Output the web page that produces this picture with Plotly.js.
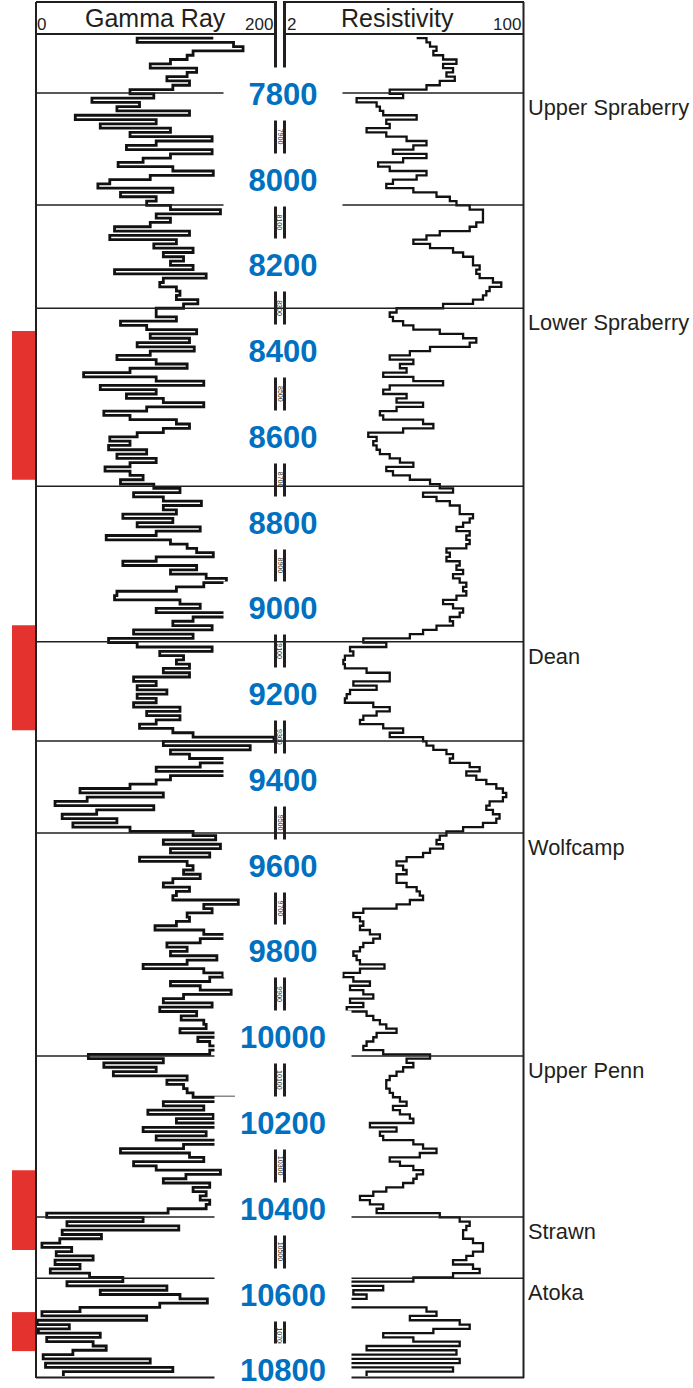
<!DOCTYPE html>
<html><head><meta charset="utf-8">
<script src="https://cdn.plot.ly/plotly-3.0.1.min.js"></script>
<style>html,body{margin:0;padding:0;background:#fff}</style>
</head><body><div id="chart" style="width:693px;height:1388px"></div>
<script>
// ---- data (depth in ft) ----
const depth = [
7670,7680,7690,7700,7710,7720,7730,7740,7750,7760,
7770,7780,7790,7800,7810,7820,7830,7840,7850,7860,
7870,7880,7890,7900,7910,7920,7930,7940,7950,7960,
7970,7980,7990,8000,8010,8020,8030,8040,8050,8060,
8070,8080,8090,8100,8110,8120,8130,8140,8150,8160,
8170,8180,8190,8200,8210,8220,8230,8240,8250,8260,
8270,8280,8290,8300,8310,8320,8330,8340,8350,8360,
8370,8380,8390,8400,8410,8420,8430,8440,8450,8460,
8470,8480,8490,8500,8510,8520,8530,8540,8550,8560,
8570,8580,8590,8600,8610,8620,8630,8640,8650,8660,
8670,8680,8690,8700,8710,8720,8730,8740,8750,8760,
8770,8780,8790,8800,8810,8820,8830,8840,8850,8860,
8870,8880,8890,8900,8910,8920,8930,8940,8950,8960,
8970,8980,8990,9000,9010,9020,9030,9040,9050,9060,
9070,9080,9090,9100,9110,9120,9130,9140,9150,9160,
9170,9180,9190,9200,9210,9220,9230,9240,9250,9260,
9270,9280,9290,9300,9310,9320,9330,9340,9350,9360,
9370,9380,9390,9400,9410,9420,9430,9440,9450,9460,
9470,9480,9490,9500,9510,9520,9530,9540,9550,9560,
9570,9580,9590,9600,9610,9620,9630,9640,9650,9660,
9670,9680,9690,9700,9710,9720,9730,9740,9750,9760,
9770,9780,9790,9800,9810,9820,9830,9840,9850,9860,
9870,9880,9890,9900,9910,9920,9930,9940,9950,9960,
9970,9980,9990,10000,10010,10020,10030,10040,10050,10060,
10070,10080,10090,10100,10110,10120,10130,10140,10150,10160,
10170,10180,10190,10200,10210,10220,10230,10240,10250,10260,
10270,10280,10290,10300,10310,10320,10330,10340,10350,10360,
10370,10380,10390,10400,10410,10420,10430,10440,10450,10460,
10470,10480,10490,10500,10510,10520,10530,10540,10550,10560,
10570,10580,10590,10600,10610,10620,10630,10640,10650,10660,
10670,10680,10690,10700,10710,10720,10730,10740,10750,10760,
10770,10780,10790];

const gammaRay = [
149,85,166,174,132,127,113,96,135,127,
110,129,115,79,99,47,87,68,129,33,
101,54,113,79,148,101,76,148,113,90,
69,115,149,96,62,52,115,71,101,93,
113,155,101,113,96,66,129,62,118,99,
132,107,124,113,132,66,143,107,104,118,
121,118,136,124,101,101,118,71,93,135,
96,129,85,133,96,68,101,127,79,40,
101,141,54,101,76,107,141,93,57,79,
118,129,107,85,62,79,61,93,68,101,
79,58,79,90,71,99,121,82,107,139,
107,118,73,115,85,138,101,59,113,127,
135,149,101,73,135,113,143,160,141,118,
68,66,121,138,101,159,132,115,148,82,
132,61,85,148,104,124,118,129,107,129,
82,101,85,110,85,101,82,121,93,121,
101,87,115,132,200,107,180,113,129,160,
138,101,160,113,101,79,37,107,43,16,
99,51,22,68,31,79,132,151,107,155,
113,146,87,127,132,124,138,115,107,129,
118,115,170,141,148,127,129,118,100,141,
159,138,110,127,113,152,127,90,141,157,
146,113,138,164,124,107,148,104,135,122,
141,143,121,152,136,146,152,146,44,107,
57,101,65,127,110,124,127,132,166,107,
141,94,149,118,152,90,143,101,152,124,
71,129,141,82,101,155,126,107,146,132,
143,138,146,143,111,9,90,26,120,22,
55,20,5,30,17,48,16,37,12,45,
73,26,110,54,121,144,104,37,5,93,
1,28,2,54,9,48,59,31,6,96,
8,115,23];

const resistivity = [
17.0,20.0,21.2,23.6,22.4,26.3,32.8,26.3,31.0,27.8,
31.9,24.9,20.0,10.9,13.6,6.31,8.78,9.27,9.79,17.0,
10.3,10.9,7.44,10.3,14.4,20.0,16.1,11.5,20.0,13.6,
9.0,10.9,20.0,17.0,11.5,10.3,16.1,23.6,29.4,32.8,
40.8,50.8,50.8,50.8,45.5,40.8,24.9,20.0,16.1,21.2,
31.0,36.6,43.1,43.1,48.1,45.5,48.1,59.9,68.7,56.7,
53.7,50.8,43.1,26.3,12.2,10.9,11.5,13.6,16.1,24.9,
36.6,45.5,40.8,21.2,15.2,10.9,16.1,12.9,14.4,9.79,
16.1,26.3,10.9,9.79,14.4,12.2,18.9,12.2,9.27,9.79,
18.9,22.4,13.6,7.65,8.78,8.31,8.78,9.27,10.9,12.9,
16.1,10.3,11.5,15.2,21.2,24.9,31.0,18.9,23.6,29.4,
34.6,34.6,43.1,40.8,36.6,32.8,40.8,38.6,40.8,38.6,
27.8,29.4,27.8,34.6,32.8,36.6,31.0,34.6,38.6,36.6,
38.6,32.8,26.3,31.0,36.6,34.6,29.4,31.0,23.6,18.9,
15.2,7.05,10.3,5.66,5.98,5.2,5.07,5.2,7.44,10.9,
10.9,5.98,8.78,5.66,5.36,5.2,8.31,10.9,8.78,7.05,
6.67,9.79,13.6,10.9,18.9,20.0,22.4,27.8,31.0,29.4,
40.8,48.1,38.6,45.5,53.7,63.3,70.6,74.6,70.6,56.7,
53.7,59.9,66.8,63.3,50.8,36.6,27.8,24.9,23.6,26.3,
21.2,18.9,14.4,12.2,13.6,14.4,12.2,12.2,14.4,17.0,
17.9,18.9,15.2,12.2,7.05,5.98,6.67,7.05,6.67,7.86,
9.27,8.31,7.05,6.67,5.98,6.31,6.67,10.0,6.67,5.07,
5.98,7.86,5.66,7.05,8.31,5.66,7.05,5.36,7.44,8.31,
9.27,10.3,12.2,8.78,8.31,7.44,7.05,9.79,21.2,14.4,
16.1,13.6,12.2,10.9,10.3,10.3,10.9,11.5,12.9,14.4,
11.5,12.9,15.2,16.1,7.86,12.2,9.27,9.79,16.1,18.9,
23.6,17.9,10.9,12.9,16.1,18.9,17.0,16.1,13.6,10.3,
8.31,6.67,7.86,9.79,8.78,24.9,34.6,40.8,38.6,36.6,
36.6,43.1,50.8,50.8,43.1,38.6,31.0,43.1,48.1,31.0,
16.1,5.66,9.79,5.98,7.44,2.1,2.2,20.0,23.6,15.2,
34.6,40.8,22.4,9.79,16.1,34.6,7.44,32.8,5.66,34.6,
5.66,31.0,7.44];

const depthLabels  = [7800,8000,8200,8400,8600,8800,9000,9200,9400,9600,9800,10000,10200,10400,10600,10800];
const columnLabels = [7900,8100,8300,8500,8700,8900,9100,9300,9500,9700,9900,10100,10300,10500,10700];
const topNames  = ['Upper Spraberry','','Lower Spraberry','','Dean','','Wolfcamp','Upper Penn','Strawn','Atoka'];
const topDepths = [7798,8059,8300,8715,9078,9309,9524,10044,10419,10562];
const targetTops  = [8353,9039,10310,10641];
const targetBases = [8700,9284,10496,10732];
const grTitle = 'Gamma Ray', resTitle = 'Resistivity';
const grScale = [0,200], resScale = [2,100];

// ---- layout helpers (pixel -> paper) ----
const W = 693, H = 1388, T = 34, B = 0;
const X = p => p / W;
const Y = p => (H - B - p) / (H - T - B);
const INK = '#231F20';
const FONT = 'Liberation Sans, Arial, sans-serif';

const shapes = [];
function pline(x0,y0,x1,y1,w){shapes.push({type:'line',xref:'paper',yref:'paper',x0:X(x0),x1:X(x1),y0:Y(y0),y1:Y(y1),line:{color:INK,width:w},layer:'above'});}
targetTops.forEach((t,i)=>shapes.push({type:'rect',xref:'paper',yref:'y',x0:X(12),x1:X(35),y0:t,y1:targetBases[i],fillcolor:'#E4322E',line:{width:0},layer:'above'}));
topDepths.forEach(d=>shapes.push({type:'line',xref:'paper',yref:'y',x0:X(36),x1:X(524),y0:d,y1:d,line:{color:INK,width:1.5},layer:'above'}));
pline(36,2,36,1378,2);
pline(275.5,2,275.5,1378,3);
pline(284.5,2,284.5,1378,3);
pline(523.5,2,523.5,1378,2);
pline(36,2,277,2,2); pline(283,2,524,2,2);
pline(36,34,277,34,2); pline(283,34,524,34,2);
pline(36,1377.5,524,1377.5,2);

const annotations = [];
const hdr = (x,txt,anchor,size,yp,ya)=>annotations.push({xref:'paper',yref:'paper',x:X(x),y:Y(yp),text:txt,showarrow:false,xanchor:anchor,yanchor:ya,borderpad:0,font:{family:FONT,size:size,color:INK}});
hdr(155,grTitle,'center',25,18,'middle');
hdr(397,resTitle,'center',25,18,'middle');
hdr(36,String(grScale[0]),'left',17,35,'bottom');
hdr(274,String(grScale[1]),'right',17,35,'bottom');
hdr(286,String(resScale[0]),'left',17,35,'bottom');
hdr(522,String(resScale[1]),'right',17,35,'bottom');
columnLabels.forEach(d=>annotations.push({xref:'paper',yref:'y',x:X(280),y:d,text:String(d),textangle:90,showarrow:false,xanchor:'center',yanchor:'middle',borderpad:0,font:{family:FONT,size:7,color:INK}}));
depthLabels.forEach(d=>annotations.push({xref:'paper',yref:'y',x:X(283),y:d,text:'<b>'+d+'</b>',showarrow:false,xanchor:'center',yanchor:'middle',
  yshift:(d===depthLabels[depthLabels.length-1])?10:0,
  bgcolor:'#ffffff',width:d>=10000?134:116,height:50,font:{family:FONT,size:31,color:'#0070C0'}}));
topNames.forEach((n,i)=>{ if(n) annotations.push({xref:'paper',yref:'y',x:X(526),y:topDepths[i],text:n,showarrow:false,xanchor:'left',yanchor:'top',font:{family:FONT,size:21.8,color:INK}}); });

const traces = [
  {x:gammaRay,y:depth,xaxis:'x',yaxis:'y',type:'scatter',mode:'lines',line:{color:'#111',width:2.8,shape:'hv'},hoverinfo:'skip'},
  {x:resistivity,y:depth,xaxis:'x2',yaxis:'y',type:'scatter',mode:'lines',line:{color:'#111',width:2.3,shape:'hv'},hoverinfo:'skip'}
];
const hidden = {showgrid:false,zeroline:false,showticklabels:false,ticks:'',showline:false};
const layout = {
  width:W,height:H,margin:{l:0,r:0,t:T,b:B,pad:0},
  paper_bgcolor:'#fff',plot_bgcolor:'rgba(0,0,0,0)',showlegend:false,
  xaxis:Object.assign({domain:[X(36),X(274)],range:grScale,anchor:'y'},hidden),
  xaxis2:Object.assign({domain:[X(287),X(524)],type:'log',range:[Math.log10(resScale[0]),Math.log10(resScale[1])],anchor:'y'},hidden),
  yaxis:Object.assign({domain:[0,1],range:[10818,7660.5]},hidden),
  shapes:shapes,annotations:annotations
};
Plotly.newPlot('chart',traces,layout,{displayModeBar:false,staticPlot:true});
</script></body></html>
